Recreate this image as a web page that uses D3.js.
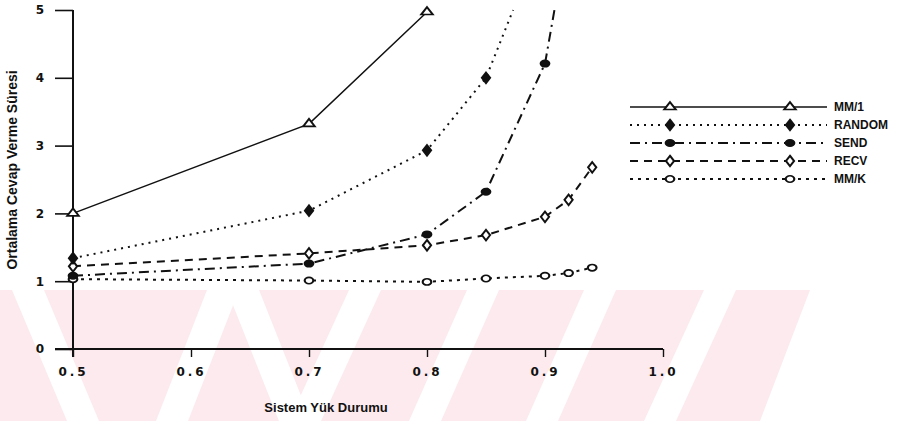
<!DOCTYPE html>
<html>
<head>
<meta charset="utf-8">
<script src="https://cdn.jsdelivr.net/npm/d3@7"></script>
<style>
  body { margin: 0; background: #fff; }
  svg { display: block; }
  .tick-label { font-family: "DejaVu Sans", sans-serif; font-weight: bold; font-size: 12px; fill: #111; }
  .axis-title { font-family: "Liberation Sans Narrow", "Liberation Sans", sans-serif; font-weight: bold; font-size: 13px; fill: #111; }
  .legend-label { font-family: "Liberation Sans Narrow", "Liberation Sans", sans-serif; font-weight: bold; font-size: 12px; fill: #111; }
</style>
</head>
<body>
<svg class="chart"></svg>
<script>
const width = 903, height = 421

// data
const seriesNames = ["MM/1", "RANDOM", "SEND", "RECV", "MM/K"]
const mm1X    = [0.5, 0.7, 0.8]
const mm1Y    = [2.0, 3.32, 4.97]
const randomX = [0.5, 0.7, 0.8, 0.85, 0.873]
const randomY = [1.34, 2.04, 2.93, 4.0, 5.0]
const sendX   = [0.5, 0.7, 0.8, 0.85, 0.9, 0.908]
const sendY   = [1.08, 1.26, 1.69, 2.32, 4.21, 5.0]
const recvX   = [0.5, 0.7, 0.8, 0.85, 0.9, 0.92, 0.94]
const recvY   = [1.22, 1.41, 1.53, 1.68, 1.95, 2.2, 2.68]
const mmkX    = [0.5, 0.7, 0.8, 0.85, 0.9, 0.92, 0.94]
const mmkY    = [1.03, 1.01, 0.99, 1.04, 1.08, 1.12, 1.2]
// last point of these lines is where they leave the top of the plot (no marker)
const exitsTop = [false, true, true, false, false]

const xTicks = [0.5, 0.6, 0.7, 0.8, 0.9, 1.0]
const xTickLabels = ["0.5", "0.6", "0.7", "0.8", "0.9", "1.0"]
const yTicks = [0, 1, 2, 3, 4, 5]
const xTitle = "Sistem Yük Durumu"
const yTitle = "Ortalama Cevap Verme Süresi"

const styles = [
  { dash: null,          symbol: d3.symbolTriangle, fill: "#fff" },
  { dash: "2,5",         symbol: d3.symbolDiamond,  fill: "#111" },
  { dash: "10,5,2,5",    symbol: d3.symbolCircle,   fill: "#111" },
  { dash: "8,6",         symbol: d3.symbolDiamond,  fill: "#fff" },
  { dash: "3,5",         symbol: d3.symbolCircle,   fill: "#fff" }
]

const series = [
  d3.zip(mm1X, mm1Y),
  d3.zip(randomX, randomY),
  d3.zip(sendX, sendY),
  d3.zip(recvX, recvY),
  d3.zip(mmkX, mmkY)
].map((pts, i) => ({ name: seriesNames[i], pts, style: styles[i], exits: exitsTop[i] }))

const x = d3.scaleLinear().domain([0.5, 1.0]).range([73, 663])
const y = d3.scaleLinear().domain([0, 5]).range([349, 10])

const svg = d3.select('.chart')
  .attr('width', width)
  .attr('height', height)

drawWatermark()
drawAxes()
drawSeries()
drawLegend()

function drawWatermark() {
  // faint pink striped band across the lower part of the scan
  const top = 290, bottom = height, half = 16
  const wm = svg.append('g').attr('class', 'watermark')
  wm.append('path')
    .attr('d', `M0,${top}L810,${top}L760,${bottom}L0,${bottom}Z`)
    .attr('fill', '#fdeaee')
  const bands = [[28, 83], [223, 172], [243, 295], [365, 305], [483, 425], [600, 542], [720, 660]]
  wm.selectAll('.band')
    .data(bands)
    .enter().append('path')
    .attr('class', 'band')
    .attr('fill', '#fff')
    .attr('d', ([t, b]) => `M${t - half},${top}L${t + half},${top}L${b + half},${bottom}L${b - half},${bottom}Z`)
}

function drawAxes() {
  const g = svg.append('g').attr('class', 'axes')

  const yAxis = d3.axisLeft(y).tickValues(yTicks).tickSize(18).tickPadding(11).tickFormat(d3.format('d'))
  const ya = g.append('g').attr('transform', `translate(${x(0.5)},0)`).call(yAxis)
  ya.select('.domain').attr('d', `M0,${y(5)}V${y(0) + 8}`).attr('stroke', '#111').attr('stroke-width', 2)
  ya.selectAll('.tick line').attr('stroke', '#111').attr('stroke-width', 1.6)
  ya.selectAll('.tick text').attr('class', 'tick-label').attr('font-family', null).attr('font-size', null)

  const xAxis = d3.axisBottom(x).tickValues(xTicks).tickSize(8).tickPadding(10)
    .tickFormat((d, i) => xTickLabels[i])
  const xa = g.append('g').attr('transform', `translate(0,${y(0)})`).call(xAxis)
  xa.select('.domain').attr('d', `M${x(0.5) - 18},0H${x(1.0)}`).attr('stroke', '#111').attr('stroke-width', 2)
  xa.selectAll('.tick line').attr('stroke', '#111').attr('stroke-width', 1.4)
  xa.selectAll('.tick text').attr('class', 'tick-label').attr('font-family', null).attr('font-size', null)
    .attr('letter-spacing', 3)

  svg.append('text')
    .attr('class', 'axis-title')
    .attr('x', 326).attr('y', 412)
    .attr('text-anchor', 'middle')
    .text(xTitle)

  svg.append('text')
    .attr('class', 'axis-title')
    .attr('transform', `translate(17,170) rotate(-90)`)
    .attr('text-anchor', 'middle')
    .style('font-family', '"Liberation Sans", Arial, sans-serif')
    .style('font-size', '14px')
    .text(yTitle)
}

function marker(sel, style) {
  sel.append('path')
    .attr('d', d3.symbol().type(style.symbol).size(32))
    .attr('transform', 'scale(1.35,1)')
    .attr('fill', style.fill)
    .attr('stroke', '#111')
    .attr('stroke-width', 1.6)
}

function drawSeries() {
  const line = d3.line().x(d => x(d[0])).y(d => y(d[1]))
  const g = svg.append('g').attr('class', 'series')

  series.forEach(s => {
    g.append('path')
      .datum(s.pts)
      .attr('d', line)
      .attr('fill', 'none')
      .attr('stroke', '#111')
      .attr('stroke-width', s.style.dash ? 2 : 1.5)
      .attr('stroke-dasharray', s.style.dash)
  })

  series.slice().reverse().forEach(s => {
    const pts = s.exits ? s.pts.slice(0, -1) : s.pts
    g.selectAll(null)
      .data(pts)
      .enter().append('g')
      .attr('transform', d => `translate(${x(d[0])},${y(d[1])})`)
      .each(function() { marker(d3.select(this), s.style) })
  })
}

function drawLegend() {
  const lg = svg.append('g').attr('class', 'legend').attr('transform', 'translate(630,107)')
  const rows = lg.selectAll('.row')
    .data(series)
    .enter().append('g')
    .attr('class', 'row')
    .attr('transform', (d, i) => `translate(0,${i * 18})`)

  rows.append('line')
    .attr('x1', 0).attr('x2', 197)
    .attr('stroke', '#111')
    .attr('stroke-width', d => d.style.dash ? 2 : 1.5)
    .attr('stroke-dasharray', d => d.style.dash)

  ;[40, 160].forEach(mx => {
    rows.append('g')
      .attr('transform', `translate(${mx},0)`)
      .each(function(d) { marker(d3.select(this), d.style) })
  })

  rows.append('text')
    .attr('class', 'legend-label')
    .attr('x', 204).attr('dy', '0.35em')
    .text(d => d.name)
}
</script>
</body>
</html>
